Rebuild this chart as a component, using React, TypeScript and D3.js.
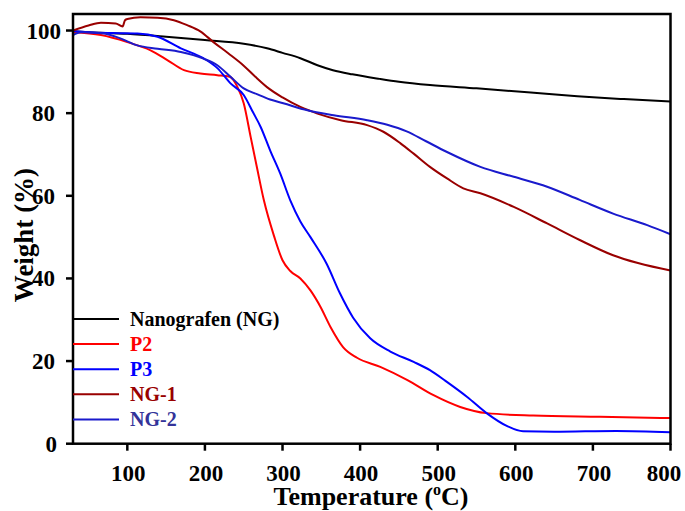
import React from 'react'
import * as d3 from 'd3'

// TGA curves, [temperature °C, weight %]
const nanografen: [number, number][] = [
  [30, 99.8], [50, 99.6], [100, 99.2], [150, 98.5], [200, 97.7], [250, 96.8], [280, 95.7],
  [300, 94.6], [323, 93.3], [345, 91.6], [365, 90.4], [390, 89.4], [425, 88.3], [450, 87.6],
  [490, 86.8], [550, 86.0], [620, 85.0], [680, 84.1], [740, 83.4], [800, 82.8],
]
const p2: [number, number][] = [
  [30, 99.6], [66, 98.9], [100, 97.2], [130, 95.2], [152, 92.8], [173, 90.4], [194, 89.6],
  [216, 89.2], [232, 88.8], [242, 86.3], [250, 82.4], [259, 74.2], [267, 66.9], [276, 58.9],
  [289, 50.3], [300, 44.4], [310, 41.8], [323, 40.0], [336, 37.1], [349, 33.1], [362, 28.2],
  [378, 23.4], [396, 20.8], [426, 18.6], [461, 15.4], [494, 11.8], [529, 8.9], [563, 7.4],
  [623, 6.8], [709, 6.5], [800, 6.2],
]
const p3: [number, number][] = [
  [30, 99.9], [50, 99.6], [80, 99.4], [113, 99.3], [139, 98.5], [169, 95.7], [198, 93.3],
  [216, 90.9], [233, 87.2], [250, 84.4], [262, 80.2], [272, 76.6], [284, 71.0], [297, 65.4],
  [310, 58.9], [323, 53.8], [336, 50.0], [357, 43.5], [374, 36.4], [391, 30.5], [413, 25.5],
  [439, 22.3], [469, 19.8], [490, 17.8], [510, 15.2], [538, 11.3], [563, 7.4], [589, 4.3],
  [610, 3.0], [650, 2.9], [730, 3.1], [800, 2.8],
]
const ng1: [number, number][] = [
  [30, 100], [50, 101.2], [66, 101.9], [85, 101.7], [94, 101.0], [97, 102.5], [100, 102.8],
  [117, 103.2], [139, 103.1], [160, 102.5], [177, 101.3], [194, 99.8], [211, 97.2], [230, 94.5],
  [250, 91.5], [265, 88.8], [280, 86.3], [300, 83.8], [323, 81.5], [345, 79.9], [375, 78.3],
  [409, 77.1], [430, 75.5], [452, 72.7], [469, 70.2], [490, 67.0], [512, 64.2], [533, 61.8],
  [555, 60.6], [598, 57.3], [641, 53.3], [683, 49.3], [726, 45.6], [800, 41.9],
]
const ng2: [number, number][] = [
  [30, 98.9], [40, 99.6], [70, 99.3], [91, 98.1], [113, 96.4], [139, 95.6], [169, 94.8],
  [198, 93.2], [216, 91.6], [233, 88.8], [250, 86.0], [267, 84.6], [284, 83.3], [301, 82.4],
  [332, 80.7], [366, 79.5], [409, 78.3], [435, 77.2], [460, 75.6], [485, 73.2], [512, 70.6],
  [555, 67.0], [598, 64.6], [641, 62.2], [683, 59.0], [726, 55.7], [770, 52.9], [800, 50.7],
]

const seriesNames = ['Nanografen (NG)', 'P2', 'P3', 'NG-1', 'NG-2']
const seriesData = [nanografen, p2, p3, ng1, ng2]
const lineColors = ['#000000', '#ff0000', '#0000ff', '#990000', '#1a1acc']
const textColors = ['#000000', '#ff0000', '#0000ff', '#990000', '#333399']

const xTicks = [100, 200, 300, 400, 500, 600, 700, 800]
const yTicks = [0, 20, 40, 60, 80, 100]

const font = "'Liberation Serif', 'DejaVu Serif', serif"

const App = () => {
  const width = 685
  const height = 511
  const left = 73
  const right = 670.5
  const top = 14
  const bottom = 443.7

  const x = d3.scaleLinear().domain([30, 800]).range([left, right])
  const y = d3.scaleLinear().domain([0, 104]).range([bottom, top])

  const line = d3
    .line<[number, number]>()
    .x((d) => x(d[0]))
    .y((d) => y(d[1]))
    .curve(d3.curveMonotoneX)

  return (
    <svg
      width={width}
      height={height}
      style={{ position: 'absolute', left: 0, top: 0, background: '#fff', fontFamily: font, fontWeight: 'bold' }}
    >
      <clipPath id="plot">
        <rect x={left} y={top} width={right - left} height={bottom - top} />
      </clipPath>
      <g clipPath="url(#plot)">
        {seriesData.map((s, i) => (
          <path key={i} d={line(s) || ''} fill="none" stroke={lineColors[i]} strokeWidth={2} />
        ))}
      </g>

      {/* frame */}
      <rect x={left} y={top} width={right - left} height={bottom - top} fill="none" stroke="#000" strokeWidth={2.5} />

      {/* y ticks */}
      {yTicks.map((t) => (
        <g key={t}>
          <line x1={left - 7} x2={left} y1={y(t)} y2={y(t)} stroke="#000" strokeWidth={2.5} />
          <text x={t === 100 ? left - 12 : t === 0 ? left - 16 : left - 18} y={y(t) + 8} textAnchor="end" fontSize={23}>
            {t}
          </text>
        </g>
      ))}

      {/* x ticks */}
      {xTicks.map((t) => (
        <g key={t}>
          <line x1={x(t)} x2={x(t)} y1={bottom} y2={bottom + 7} stroke="#000" strokeWidth={2.5} />
          <text x={Math.min(x(t) + 1, width - 21)} y={481} textAnchor="middle" fontSize={23}>
            {t}
          </text>
        </g>
      ))}

      {/* axis titles */}
      <text x={371} y={505} textAnchor="middle" fontSize={26}>
        Temperature (<tspan fontSize={16} dy={-10}>o</tspan>
        <tspan dy={10}>C)</tspan>
      </text>
      <text transform="translate(33,235) rotate(-90)" textAnchor="middle" fontSize={27}>
        Weight (%)
      </text>

      {/* legend */}
      {seriesNames.map((name, i) => {
        const ly = 319 + i * 25.1
        return (
          <g key={name}>
            <line x1={left} x2={119} y1={ly} y2={ly} stroke={lineColors[i]} strokeWidth={2} />
            <text x={130} y={ly + 7} fontSize={20} fill={textColors[i]}>
              {name}
            </text>
          </g>
        )
      })}
    </svg>
  )
}

export default App
